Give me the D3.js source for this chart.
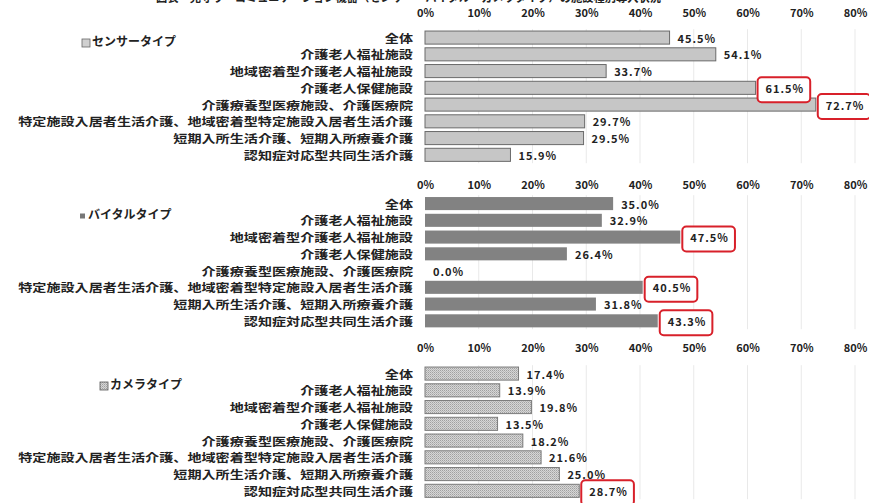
<!DOCTYPE html>
<html><head><meta charset="utf-8">
<script src="https://cdn.jsdelivr.net/npm/d3@7"></script>
<style>
body{margin:0;background:#fff;}
text{font-family:"Noto Sans CJK JP","Noto Sans",sans-serif;}
</style></head>
<body><svg id="c" width="869" height="503"></svg>
<script>
const categories = ["全体","介護老人福祉施設","地域密着型介護老人福祉施設","介護老人保健施設","介護療養型医療施設、介護医療院","特定施設入居者生活介護、地域密着型特定施設入居者生活介護","短期入所生活介護、短期入所療養介護","認知症対応型共同生活介護"];
const sensorValues = [45.5, 54.1, 33.7, 61.5, 72.7, 29.7, 29.5, 15.9];
const vitalValues  = [35.0, 32.9, 47.5, 26.4, 0.0, 40.5, 31.8, 43.3];
const cameraValues = [17.4, 13.9, 19.8, 13.5, 18.2, 21.6, 25.0, 28.7];
const sensorHighlight = [3, 4];
const vitalHighlight = [2, 5, 7];
const cameraHighlight = [7];
const tickValues = [0,10,20,30,40,50,60,70,80];
const tickLabels = ["0%","10%","20%","30%","40%","50%","60%","70%","80%"];
const panelTitles = ["センサータイプ","バイタルタイプ","カメラタイプ"];
const chartTitle = "図表　見守り・コミュニケーション機器（センサー・バイタル・カメラタイプ）の施設種別導入状況";

const svg = d3.select("#c");
const defs = svg.append("defs");
const pat = defs.append("pattern").attr("id","dots").attr("patternUnits","userSpaceOnUse").attr("width",2).attr("height",2);
pat.append("rect").attr("width",2).attr("height",2).attr("fill","#d6d6d6");
pat.append("rect").attr("width",1).attr("height",1).attr("fill","#a0a0a0");
pat.append("rect").attr("x",1).attr("y",1).attr("width",1).attr("height",1).attr("fill","#b8b8b8");

// clipped title at top (only its lower edge is visible, as in the reference)
svg.append("text").attr("x",156).attr("y",2).attr("font-size",12).attr("font-weight","bold")
  .attr("fill","#222").attr("textLength",505).attr("lengthAdjust","spacingAndGlyphs").text(chartTitle);

const x = d3.scaleLinear().domain([0,80]).range([425,855]);

const panels = [
  {values: sensorValues, hl: sensorHighlight, axisY: 20, top: 29.2, title: panelTitles[0], tx: 82, ty: 43,
   fill: "#c6c6c6", stroke: "#6a6a6a", marker: "light"},
  {values: vitalValues, hl: vitalHighlight, axisY: 192, top: 195.2, title: panelTitles[1], tx: 78, ty: 216,
   fill: "#828282", stroke: "none", marker: "dark"},
  {values: cameraValues, hl: cameraHighlight, axisY: 355, top: 365.2, title: panelTitles[2], tx: 100, ty: 386,
   fill: "url(#dots)", stroke: "#7a7a7a", marker: "dots"}
];

panels.forEach((p, pi) => {
  const y = d3.scaleBand().domain(categories).range([p.top, p.top + 134]).paddingInner(0.22).paddingOuter(0.11);
  const g = svg.append("g");

  // gridlines
  g.selectAll(".grid").data(tickValues.slice(1)).enter().append("line")
    .attr("x1", d => x(d)).attr("x2", d => x(d))
    .attr("y1", p.top).attr("y2", p.top + 134)
    .attr("stroke", "#e9e9e9").attr("stroke-width", 1);

  // axis
  const ax = g.append("g").attr("transform", `translate(0,${p.axisY})`)
    .call(d3.axisTop(x).tickValues(tickValues).tickSize(0).tickPadding(3)
      .tickFormat((d,i) => tickLabels[i]));
  ax.select(".domain").remove();
  ax.selectAll("text").attr("font-size", 11).attr("font-weight", "bold").attr("fill", "#222")
    .attr("font-family", "\"Noto Sans CJK JP\",sans-serif");

  // bars
  g.selectAll(".bar").data(p.values).enter().append("rect")
    .attr("x", x(0))
    .attr("y", (d,i) => y(categories[i]))
    .attr("width", d => Math.max(0, x(d) - x(0)))
    .attr("height", y.bandwidth())
    .attr("fill", p.fill)
    .attr("stroke", d => d > 0 ? p.stroke : "none")
    .attr("stroke-width", 1);

  // category labels (wide, squat glyphs as in the reference)
  g.selectAll(".cat").data(categories).enter().append("text")
    .attr("x", 413).attr("y", d => y(d) + y.bandwidth()/2 + 2)
    .attr("text-anchor", "end").attr("dominant-baseline", "middle")
    .attr("font-size", 11.3).attr("font-weight", "bold").attr("fill", "#222")
    .attr("textLength", d => d.length * 14.1).attr("lengthAdjust", "spacingAndGlyphs")
    .text(d => d);

  // value labels and highlight boxes
  p.values.forEach((v, i) => {
    const cy = y(categories[i]) + y.bandwidth()/2 + 2;
    const isHl = p.hl.includes(i);
    const lx = x(v) + (isHl ? 10 : 8);
    let box = null;
    if (isHl) {
      box = g.append("rect").attr("x", x(v) + 2).attr("y", cy - 12.5)
        .attr("height", 25).attr("rx", 4)
        .attr("fill", "#fff").attr("stroke", "#d8202a").attr("stroke-width", 2);
    }
    const t = g.append("text").attr("x", lx).attr("y", cy)
      .attr("dominant-baseline", "middle").attr("font-size", 11).attr("font-weight", "bold")
      .attr("fill", "#222").attr("letter-spacing", 1)
      .text(v.toFixed(1) + "%");
    if (box) {
      const w = t.node().getComputedTextLength();
      box.attr("width", w + 14);
    }
  });

  // section title with legend marker
  const mk = g.append("rect").attr("y", p.ty - 4).attr("x", p.tx).attr("width", 8).attr("height", 8);
  if (p.marker === "light") mk.attr("fill", "#d0d0d0").attr("stroke", "#666").attr("stroke-width", 0.8);
  else if (p.marker === "dark") mk.attr("x", p.tx + 2).attr("y", p.ty - 2.5).attr("width", 5).attr("height", 5).attr("fill", "#777");
  else mk.attr("fill", "url(#dots)").attr("stroke", "#555").attr("stroke-width", 0.8);
  g.append("text").attr("x", p.tx + 10).attr("y", p.ty).attr("dominant-baseline", "middle")
    .attr("font-size", 12).attr("font-weight", "bold").attr("fill", "#222").text(p.title);
});
</script></body></html>
